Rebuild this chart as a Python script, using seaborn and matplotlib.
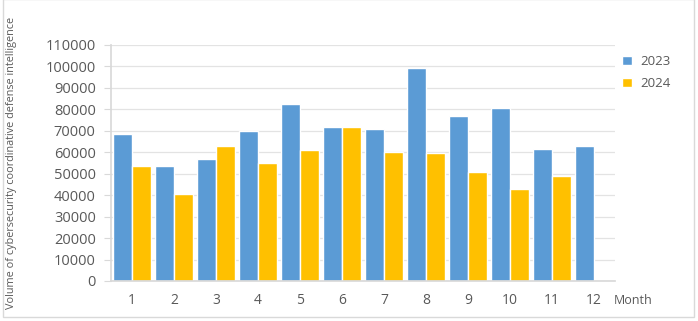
import matplotlib
matplotlib.use("Agg")
import matplotlib.pyplot as plt
import seaborn as sns
import pandas as pd
import numpy as np

months = [str(m) for m in range(1, 13)]
vals_2023 = [68500, 53500, 57000, 70000, 82500, 72000, 71000, 99500, 77000, 80500, 61500, 63000]
vals_2024 = [53500, 40500, 63000, 55000, 61000, 72000, 60000, 59500, 51000, 43000, 49000, np.nan]
years = ["2023", "2024"]
yticks = list(range(0, 110001, 10000))

df = pd.DataFrame({
    "Month": months * 2,
    "Year": [years[0]] * 12 + [years[1]] * 12,
    "Value": vals_2023 + vals_2024,
})

sns.set_theme(style="white")
plt.rcParams["font.family"] = ["Open Sans", "DejaVu Sans"]

fig = plt.figure(figsize=(6.98, 3.21), dpi=100)
ax = fig.add_axes([111/698, 40/321, (615-111)/698, 236/321])

sns.barplot(data=df, x="Month", y="Value", hue="Year", order=months, hue_order=years,
            palette=["#5B9BD5", "#FFC000"], width=0.9, gap=0, saturation=1,
            errorbar=None, ax=ax, legend=True)

ax.set_ylim(0, 110000)
ax.set_xlim(-0.5, 11.5)
ax.set_yticks(yticks)
ax.set_yticklabels([str(v) for v in yticks], color="#595959", fontsize=10.5)
ax.set_xticklabels(months, color="#595959", fontsize=10)
ax.tick_params(axis="x", length=0, pad=9)
ax.tick_params(axis="y", length=5, width=0.8, color="#D9D9D9", left=True, pad=6)
ax.yaxis.grid(True, color="#E3E3E3", linewidth=0.9)
ax.set_axisbelow(True)
for s in ["top", "right"]:
    ax.spines[s].set_visible(False)
ax.spines["left"].set_color("#D9D9D9")
ax.spines["bottom"].set_color("#D9D9D9")
ax.set_xlabel("")
ax.set_ylabel("")

fig.text(12/698, 1 - 163/321, "Volume of cybersecurity coordinative defense intelligence",
         rotation=90, ha="center", va="center", fontsize=7.8, color="#595959")
fig.text(633/698, 1 - 300/321, "Month", ha="center", va="center", fontsize=9, color="#595959")

leg = ax.legend(loc="upper left", bbox_to_anchor=(617/698, 1 - 50/321),
                bbox_transform=fig.transFigure, frameon=False, fontsize=9.5,
                handlelength=0.75, handleheight=0.7, handletextpad=0.6,
                labelspacing=0.65, borderaxespad=0)
for t in leg.get_texts():
    t.set_color("#595959")

border = plt.Rectangle((3/698, 4/321), 691/698, 0.99, transform=fig.transFigure,
                       fill=False, edgecolor="#D9D9D9", linewidth=1)
fig.patches.append(border)

fig.savefig("out.png", dpi=100)
